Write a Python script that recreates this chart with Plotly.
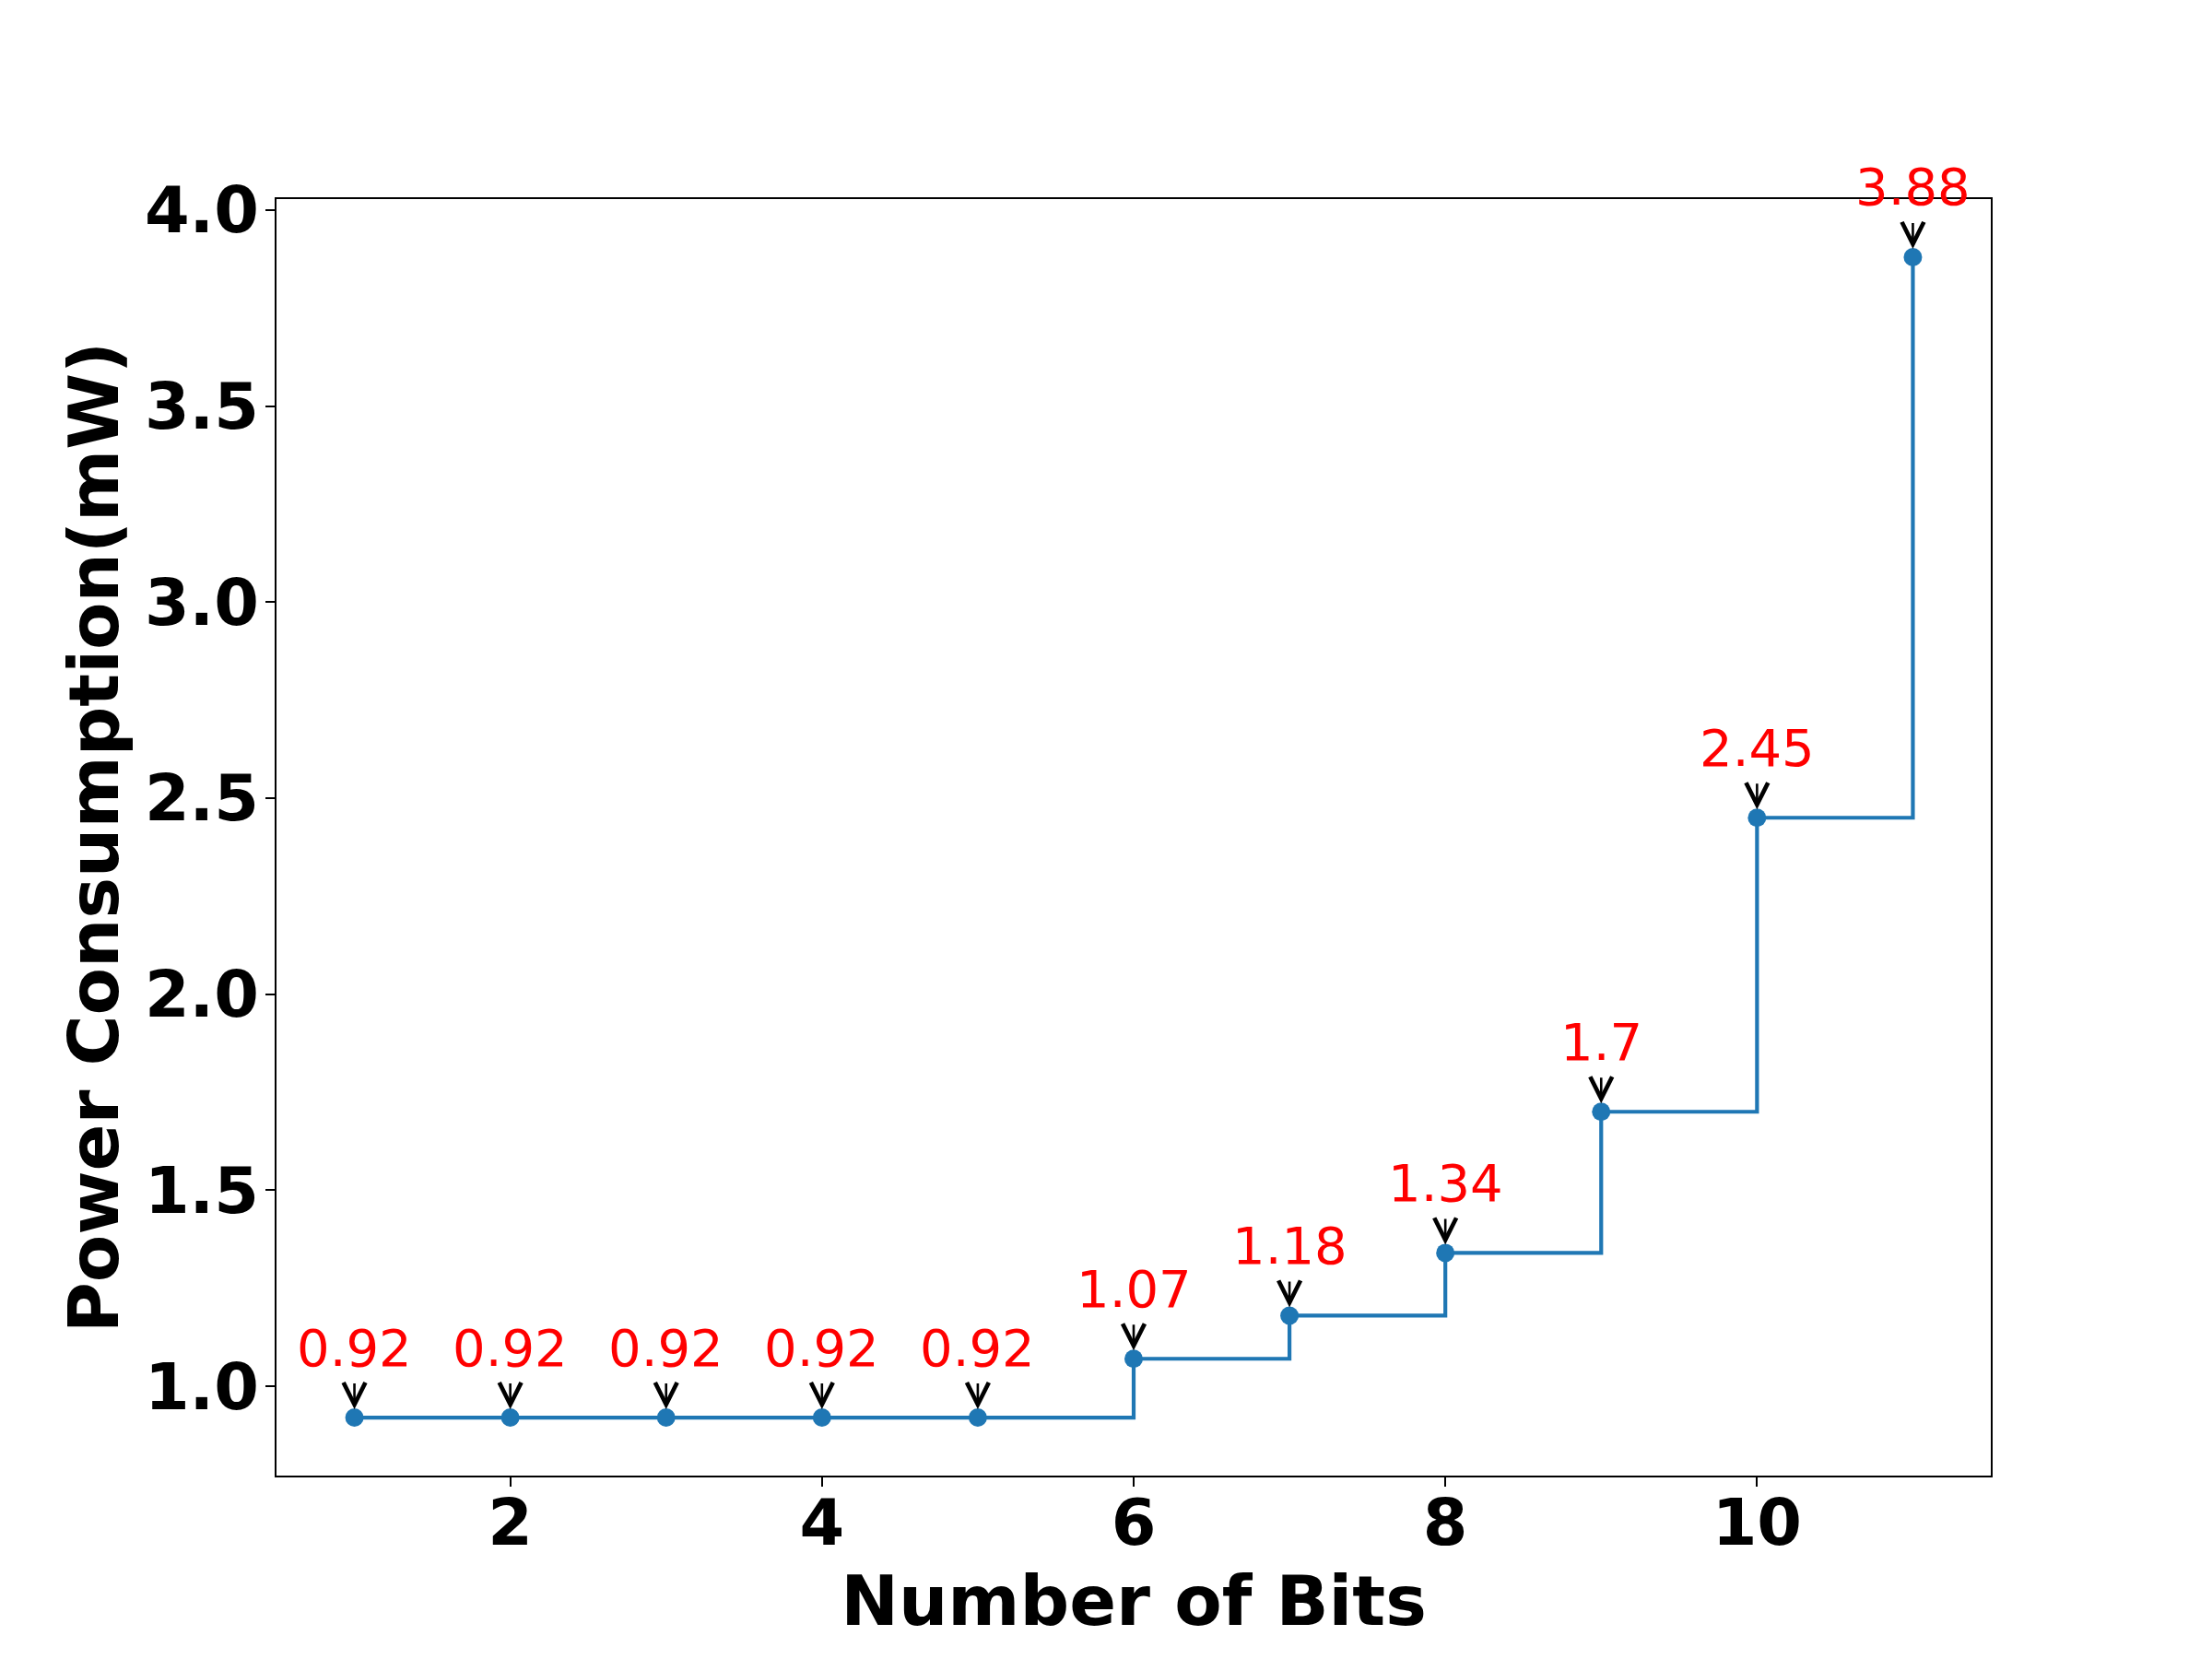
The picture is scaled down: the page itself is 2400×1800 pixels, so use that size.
import plotly.graph_objects as go

bits = [1, 2, 3, 4, 5, 6, 7, 8, 9, 10, 11]
power = [0.92, 0.92, 0.92, 0.92, 0.92, 1.07, 1.18, 1.34, 1.70, 2.45, 3.88]
labels = ["0.92", "0.92", "0.92", "0.92", "0.92", "1.07", "1.18", "1.34", "1.7", "2.45", "3.88"]
x_ticks = [2, 4, 6, 8, 10]
y_ticks = [1.0, 1.5, 2.0, 2.5, 3.0, 3.5, 4.0]

blue = "#1f77b4"
fig = go.Figure()
fig.add_trace(go.Scatter(
    x=bits, y=power, mode="lines+markers",
    line=dict(color=blue, width=4.2, shape="hv"),
    marker=dict(color=blue, size=20),
    showlegend=False, cliponaxis=False,
))

annotations = []
for xv, yv, t in zip(bits, power, labels):
    annotations.append(dict(
        x=xv, y=yv, xref="x", yref="y", text=t,
        font=dict(family="DejaVu Sans", size=56, color="red"),
        showarrow=True, ax=0, ay=-76, arrowhead=5, arrowsize=1.8,
        arrowwidth=2.6, arrowcolor="black", standoff=9, startstandoff=6,
        borderpad=0,
    ))

xmin, xmax = min(bits), max(bits)
ymin, ymax = min(power), max(power)
xm = (xmax - xmin) * 0.05
ym = (ymax - ymin) * 0.05

axis_common = dict(
    showline=True, linecolor="black", linewidth=2.2, mirror=True,
    ticks="outside", ticklen=10, tickwidth=2.2, tickcolor="black",
    showgrid=False, zeroline=False,
    tickfont=dict(family="DejaVu Sans", size=70, color="black", weight="bold"),
)

fig.update_layout(
    width=2392, height=1792,
    margin=dict(l=292, r=240, t=208, b=199),
    plot_bgcolor="white", paper_bgcolor="white",
    annotations=annotations,
    xaxis=dict(
        range=[xmin - xm, xmax + xm], tickvals=x_ticks,
        ticktext=[str(v) for v in x_ticks],
        ticklabelstandoff=-21,
        title=dict(text="<b>Number of Bits</b>", standoff=4,
                   font=dict(family="DejaVu Sans", size=75, color="black")),
        **axis_common,
    ),
    yaxis=dict(
        range=[ymin - ym, ymax + ym], tickvals=y_ticks,
        ticktext=[f"{v:.1f}" for v in y_ticks],
        ticklabelstandoff=-7,
        title=dict(text="<b>Power Consumption(mW)</b>", standoff=4,
                   font=dict(family="DejaVu Sans", size=75, color="black")),
        **axis_common,
    ),
)

fig.write_html("out.html")
